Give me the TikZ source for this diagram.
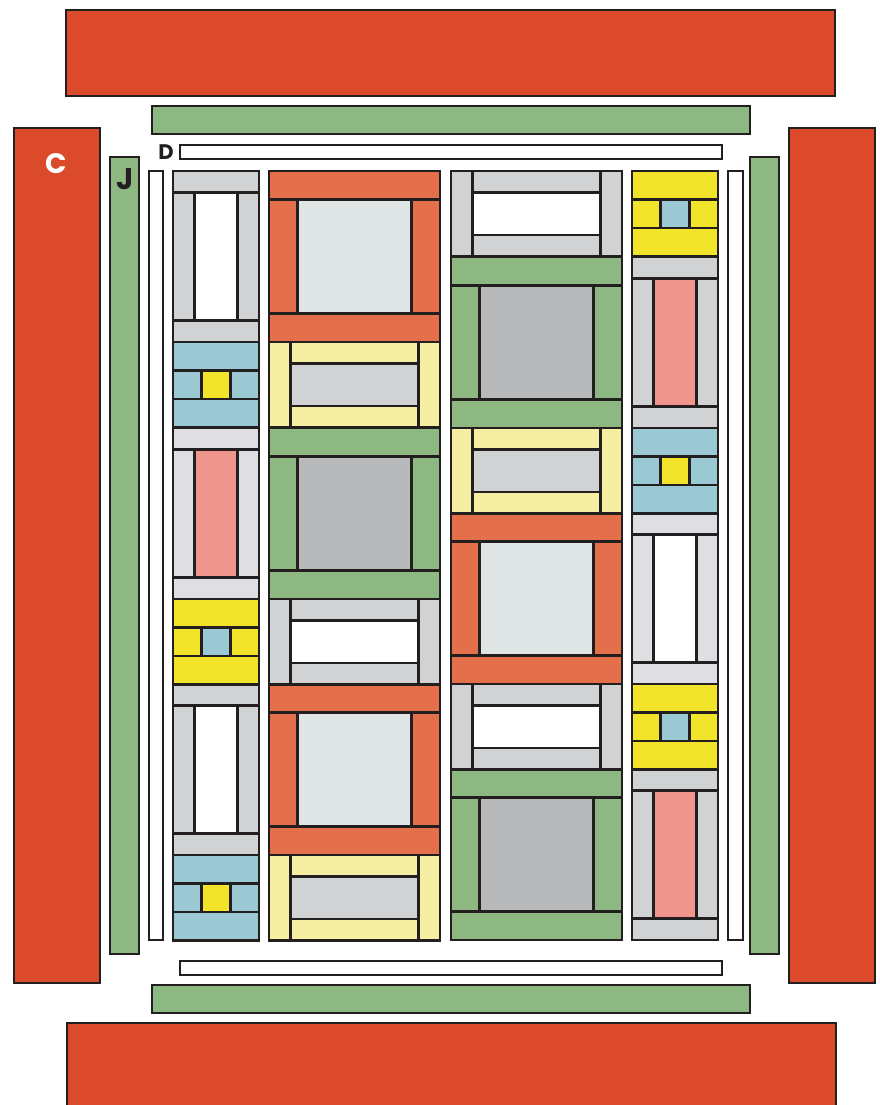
\documentclass[tikz,border=0pt]{standalone}
\usepackage{fontspec}
\usepackage{tikz}
\usetikzlibrary{positioning}
\newfontfamily\labelfont{Poppins}
\definecolor{qred}{HTML}{DB4A2A}
\definecolor{qorange}{HTML}{E3704B}
\definecolor{qgreen}{HTML}{8DB881}
\definecolor{qgray}{HTML}{D1D2D4}
\definecolor{qlgray}{HTML}{DFDEE3}
\definecolor{qdgray}{HTML}{B8B9BB}
\definecolor{qpale}{HTML}{E0E5E5}
\definecolor{qblue}{HTML}{9AC8D3}
\definecolor{qyellow}{HTML}{F2E32B}
\definecolor{qpyellow}{HTML}{F6EFA1}
\definecolor{qpink}{HTML}{EF958C}
\definecolor{qline}{HTML}{231F20}

\begin{document}
\begin{tikzpicture}[
        x=0.02cm,
        y=-0.02cm,
        patch/.style={draw=qline, line width=1.6pt, line join=miter},
        lab/.style={font=\labelfont\bfseries, inner sep=0pt}
    ]
        \useasboundingbox (0,0) rectangle (879,1105);
        % borders
        \draw[patch, fill=qred] (66,10) rectangle (835,96);
        \draw[patch, fill=qgreen] (152,106) rectangle (750,134);
        \draw[patch, fill=white] (180,145) rectangle (722,159);
        \draw[patch, fill=qred] (14,128) rectangle (100,983);
        \draw[patch, fill=qgreen] (110,157) rectangle (139,954);
        \draw[patch, fill=white] (149,171) rectangle (163,940);
        \draw[patch, fill=white] (728,171) rectangle (743,940);
        \draw[patch, fill=qgreen] (750,157) rectangle (779,954);
        \draw[patch, fill=qred] (789,128) rectangle (875,983);
        \draw[patch, fill=white] (180,961) rectangle (722,975);
        \draw[patch, fill=qgreen] (152,985) rectangle (750,1013);
        \draw[patch, fill=qred] (67,1023) rectangle (836,1130);
        \node[lab, text=white, font=\labelfont\bfseries\fontsize{16}{16}\selectfont] (labC) at (56,164) {C};
        \node[lab, text=qline, font=\labelfont\bfseries\fontsize{12}{12}\selectfont] (labD) at (166,152) {D};
        \node[lab, text=qline, font=\labelfont\bfseries\fontsize{17}{17}\selectfont] (labJ) at (125,179) {J};
        % framed blocks: x/y/w/h/t/frame/centre
        \foreach \x/\y/\w/\h/\t/\fc/\cc in {
            173/171/86/171/21.5/qgray/white, 173/428/86/171/21.5/qlgray/qpink,
            173/684/86/171/21.5/qgray/white, 632/257/86/171/21.5/qgray/qpink,
            632/513/86/171/21.5/qlgray/white, 632/769/86/171/21.5/qgray/qpink,
            269/171/171/171/28.5/qorange/qpale, 269/428/171/171/28.5/qgreen/qdgray,
            269/684/171/171/28.5/qorange/qpale, 451/257/171/171/28.5/qgreen/qdgray,
            451/513/171/171/28.5/qorange/qpale, 451/769/171/171/28.5/qgreen/qdgray}{
            \draw[patch, fill=\fc] (\x,\y) rectangle ++(\w,\t);
            \draw[patch, fill=\fc] ({\x},{\y+\h-\t}) rectangle ++(\w,\t);
            \draw[patch, fill=\fc] ({\x},{\y+\t}) rectangle ++(\t,{\h-2*\t});
            \draw[patch, fill=\fc] ({\x+\w-\t},{\y+\t}) rectangle ++(\t,{\h-2*\t});
            \draw[patch, fill=\cc] ({\x+\t},{\y+\t}) rectangle ++({\w-2*\t},{\h-2*\t});
        }
        % rail blocks: x/y/rail/centre
        \foreach \x/\y/\fc/\cc in {
            269/342/qpyellow/qgray, 269/599/qgray/white, 269/855/qpyellow/qgray,
            451/171/qgray/white, 451/428/qpyellow/qgray, 451/684/qgray/white}{
            \draw[patch, fill=\fc] (\x,\y) rectangle ++(21.5,85.5);
            \draw[patch, fill=\fc] ({\x+149.5},{\y}) rectangle ++(21.5,85.5);
            \draw[patch, fill=\fc] ({\x+21.5},{\y}) rectangle ++(128,21.5);
            \draw[patch, fill=\fc] ({\x+21.5},{\y+64}) rectangle ++(128,21.5);
            \draw[patch, fill=\cc] ({\x+21.5},{\y+21.5}) rectangle ++(128,42.5);
        }
        % small nine-patch blocks: x/y/outer/middle
        \foreach \x/\y/\oc/\mc in {
            173/342/qblue/qyellow, 173/599/qyellow/qblue, 173/855/qblue/qyellow,
            632/171/qyellow/qblue, 632/428/qblue/qyellow, 632/684/qyellow/qblue}{
            \draw[patch, fill=\oc] (\x,\y) rectangle ++(86,28.5);
            \draw[patch, fill=\oc] ({\x},{\y+57}) rectangle ++(86,28.5);
            \draw[patch, fill=\oc] ({\x},{\y+28.5}) rectangle ++(28.7,28.5);
            \draw[patch, fill=\oc] ({\x+57.3},{\y+28.5}) rectangle ++(28.7,28.5);
            \draw[patch, fill=\mc] ({\x+28.7},{\y+28.5}) rectangle ++(28.6,28.5);
        }
    \end{tikzpicture}
\end{document}
